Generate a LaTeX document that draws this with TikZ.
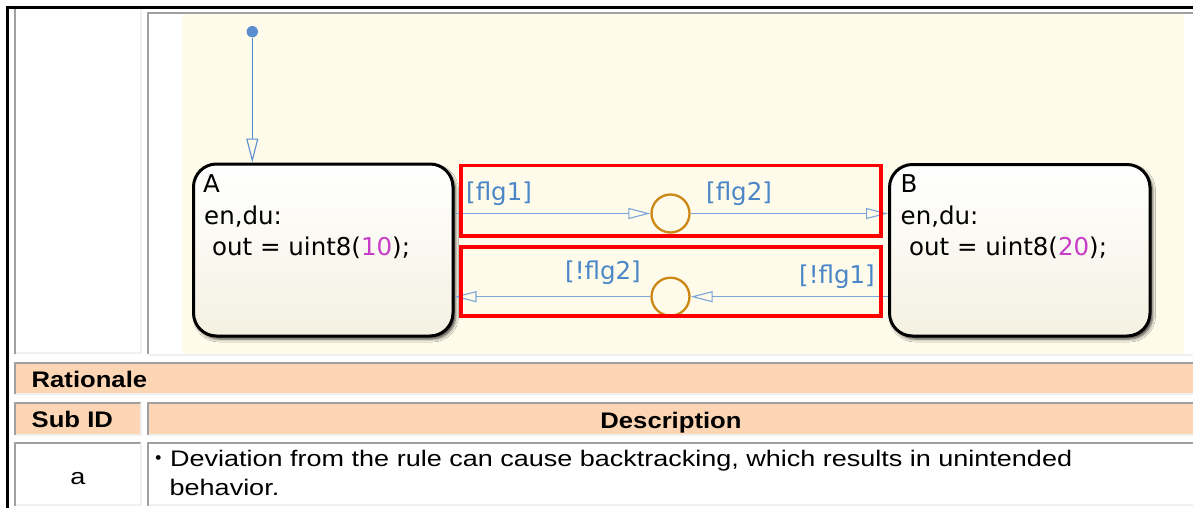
\documentclass[tikz,border=0pt]{standalone}
\usepackage{fontspec}
\setmainfont{DejaVu Sans}
\newfontfamily\tabfont[FakeStretch=1.2]{Liberation Sans}
\newfontfamily\tabbfont[FakeStretch=1.14]{Liberation Sans}
\newfontfamily\cjkfont{Noto Sans CJK JP}
\usetikzlibrary{arrows.meta,shadows.blur}
\definecolor{beige}{RGB}{255,251,234}
\definecolor{peach}{RGB}{252,213,180}
\definecolor{bordgray}{RGB}{160,160,160}
\definecolor{bordlight}{RGB}{240,240,240}
\definecolor{transc}{RGB}{122,165,216}
\definecolor{initc}{RGB}{90,142,206}
\definecolor{lblc}{RGB}{74,134,200}
\definecolor{juncc}{RGB}{204,136,20}
\definecolor{numc}{RGB}{200,60,200}
\definecolor{statebot}{RGB}{244,241,226}
\newcommand\mystatesz{\fontsize{24.5}{30}\selectfont}
\newcommand\mytabsz{\fontsize{22.5}{27}\selectfont}
\begin{document}
\begin{tikzpicture}[x=1pt,y=-1pt,
  statebox/.style={draw=black, line width=3pt, rectangle, rounded corners=23pt,
    top color=white, bottom color=statebot,
    blur shadow={shadow xshift=2.5pt, shadow yshift=-3pt, shadow blur radius=3pt, shadow opacity=75},
    inner sep=0pt},
  junction/.style={circle, draw=juncc, line width=2.3pt, minimum size=38pt, inner sep=0pt},
  tline/.style={draw=transc, line width=1.1pt, -{Triangle[open, length=22pt, width=11pt]}},
  stxt/.style={anchor=base west, inner sep=0pt, font=\mystatesz},
  lbl/.style={anchor=base west, inner sep=0pt, font=\mystatesz, text=lblc},
  hilite/.style={draw=red, line width=3.5pt},
  gline/.style={draw=bordgray, line width=2pt},
  lline/.style={draw=bordlight, line width=2pt},
  ttxt/.style={inner sep=0pt, font=\tabfont\mytabsz},
  tbtxt/.style={inner sep=0pt, font=\tabbfont\bfseries\mytabsz}
]
\useasboundingbox (0,0) rectangle (1193,508);
\fill[white] (0,0) rectangle (1193,508);
% outer frame
\draw[line width=2.5pt] (7.5,508) -- (7.5,7.5) -- (1193,7.5);
% top-left cell
\draw[gline] (14.5,9) -- (14.5,354);
\draw[lline] (141,9) -- (141,353) -- (15.5,353);
% diagram cell
\fill[beige] (182,14) rectangle (1184,354);
\draw[gline] (148,354) -- (148,13) -- (1193,13);
\draw[lline] (149,355) -- (1193,355);
% rationale row
\fill[peach] (15,364) rectangle (1193,393);
\draw[gline] (14.5,394) -- (14.5,363) -- (1193,363);
\draw[lline] (15.5,394) -- (1193,394);
% sub id row
\fill[peach] (15.5,404) rectangle (140,434);
\draw[gline] (14.5,435) -- (14.5,403) -- (141,403);
\draw[lline] (141,403) -- (141,435) -- (15.5,435);
\fill[peach] (149,404) rectangle (1193,434);
\draw[gline] (148,435) -- (148,403) -- (1193,403);
\draw[lline] (149,435) -- (1193,435);
% row a
\draw[gline] (14.5,506) -- (14.5,443) -- (141,443);
\draw[lline] (141,443) -- (141,505) -- (15.5,505);
\draw[gline] (148,506) -- (148,443) -- (1193,443);
\draw[lline] (149,505) -- (1193,505);
% table texts
\node[tbtxt, anchor=base west] (rat) at (31.5,387.3) {Rationale};
\node[tbtxt, anchor=base west] (subid) at (31.5,427.7) {Sub ID};
\node[tbtxt, anchor=base] (desc) at (671,428) {Description};
\node[ttxt, anchor=base] (suba) at (78,484) {a};
\node[ttxt, anchor=base west] (dev) at (147.5,466.5) {{\cjkfont ・}Deviation from the rule can cause backtracking, which results in unintended};
\node[ttxt, anchor=base west] (beh) at (169.5,495) {behavior.};
% states
\node[statebox, minimum width=259.5pt, minimum height=172pt] (A) at (323.25,250) {};
\node[statebox, minimum width=260.5pt, minimum height=171.5pt] (B) at (1019.75,250.25) {};
\node[stxt] (Aname) at (203,192.7) {A};
\node[stxt] (Aen) at (204,224.5) {en,du:};
\node[stxt] (Aout) at (212,255) {out = uint8({\color{numc}10});};
\node[stxt] (Bname) at (900.5,192) {B};
\node[stxt] (Ben) at (900.5,224.5) {en,du:};
\node[stxt] (Bout) at (909,255) {out = uint8({\color{numc}20});};
% initial transition
\node[circle, fill=initc, minimum size=11.4pt, inner sep=0pt] (init) at (252.3,31.7) {};
\draw[draw=initc, line width=1.1pt, -{Triangle[open, length=24pt, width=12pt]}] (init) -- (init |- A.north);
% junctions
\node[junction] (jt) at (670.5,213.5) {};
\node[junction] (jb) at (670.5,296.7) {};
% transitions
\draw[tline] (jt.west -| A.east) -- (jt.west);
\draw[tline] (jt.east) -- (jt.east -| B.west);
\draw[tline] (jb.east -| B.west) -- (jb.east);
\draw[tline] (jb.west) -- (jb.west -| A.east);
% labels
\node[lbl] (l1) at (466,200) {{[}flg1{]}};
\node[lbl] (l2) at (706,200) {{[}flg2{]}};
\node[lbl] (l3) at (565,279) {{[}!flg2{]}};
\node[lbl] (l4) at (799,283) {{[}!flg1{]}};
% highlight boxes
\draw[hilite] (461,165.5) rectangle (881,235.8);
\draw[hilite] (461,247) rectangle (881,316);
\end{tikzpicture}
\end{document}
